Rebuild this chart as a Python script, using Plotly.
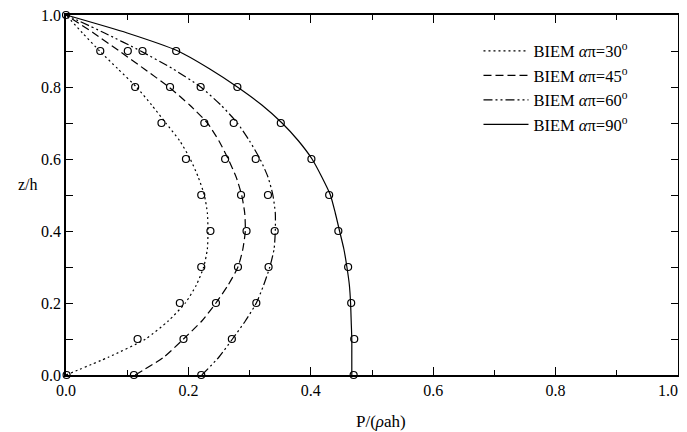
import plotly.graph_objects as go

# ---- curve data (BIEM lines) ----
z_curve = [0.0, 0.05, 0.1, 0.15, 0.2, 0.25, 0.3, 0.35, 0.4, 0.45, 0.5,
           0.55, 0.6, 0.65, 0.7, 0.75, 0.8, 0.85, 0.9, 0.95, 1.0]
p30_curve = [0.0, 0.07, 0.13, 0.167, 0.195, 0.213, 0.225, 0.231, 0.232, 0.231, 0.226,
             0.216, 0.203, 0.186, 0.163, 0.140, 0.115, 0.085, 0.055, 0.027, 0.0]
p45_curve = [0.113, 0.160, 0.192, 0.222, 0.245, 0.265, 0.281, 0.289, 0.293, 0.292, 0.287,
             0.278, 0.265, 0.250, 0.231, 0.202, 0.168, 0.128, 0.087, 0.045, 0.0]
p60_curve = [0.222, 0.250, 0.272, 0.293, 0.311, 0.323, 0.333, 0.340, 0.342, 0.342, 0.338,
             0.330, 0.317, 0.300, 0.280, 0.253, 0.220, 0.175, 0.122, 0.063, 0.0]
p90_curve = [0.467, 0.467, 0.467, 0.466, 0.465, 0.463, 0.459, 0.454, 0.447, 0.440, 0.432,
             0.418, 0.402, 0.380, 0.353, 0.320, 0.280, 0.235, 0.183, 0.100, 0.0]

# ---- circle data ----
z_pts = [0.0, 0.1, 0.2, 0.3, 0.4, 0.5, 0.6, 0.7, 0.8, 0.9]
p30_pts = [0.001, 0.117, 0.186, 0.221, 0.236, 0.221, 0.196, 0.156, 0.113, 0.056]
p45_pts = [0.111, 0.192, 0.245, 0.281, 0.295, 0.286, 0.260, 0.226, 0.170, 0.101]
p60_pts = [0.221, 0.271, 0.311, 0.331, 0.341, 0.330, 0.310, 0.274, 0.220, 0.125]
p90_pts = [0.470, 0.471, 0.466, 0.461, 0.445, 0.430, 0.401, 0.351, 0.280, 0.180]
top_pt_x = [0.0]
top_pt_z = [1.0]

labels = ["BIEM <i>α</i>π=30<sup>o</sup>", "BIEM <i>α</i>π=45<sup>o</sup>",
          "BIEM <i>α</i>π=60<sup>o</sup>", "BIEM <i>α</i>π=90<sup>o</sup>"]
x_ticks = [0.0, 0.2, 0.4, 0.6, 0.8, 1.0]
x_tick_text = ["0.0", "0.2", "0.4", "0.6", "0.8", ""]
last_x_label = "1.0"
y_ticks = [0.0, 0.2, 0.4, 0.6, 0.8, 1.0]

FONT = "Liberation Serif"
dashes = ["2px,3px", "8px,4px", "9px,3px,2px,3px,2px,3px", "solid"]
curves = [p30_curve, p45_curve, p60_curve, p90_curve]
pts = [p30_pts, p45_pts, p60_pts, p90_pts]

fig = go.Figure()
for lab, c, d in zip(labels, curves, dashes):
    fig.add_trace(go.Scatter(x=c, y=z_curve, mode="lines", name=lab,
                             line=dict(color="black", width=1.2, dash=d, shape="spline", smoothing=0.6)))
for p in pts:
    fig.add_trace(go.Scatter(x=p, y=z_pts, mode="markers", showlegend=False,
                             marker=dict(symbol="circle-open", size=7, color="black",
                                         line=dict(width=1.2, color="black"))))
fig.add_trace(go.Scatter(x=top_pt_x, y=top_pt_z, mode="markers", showlegend=False,
                         marker=dict(symbol="circle-open", size=7, color="black",
                                     line=dict(width=1.2, color="black"))))
for tr in fig.data:
    tr.cliponaxis = False

axis_common = dict(showgrid=False, zeroline=False, showline=True, linecolor="black",
                   linewidth=1.5, mirror="ticks", ticks="inside", tickcolor="black",
                   tickwidth=1, range=[0, 1.0], automargin=False, ticklabeloverflow="allow",
                   tickfont=dict(family=FONT, size=16, color="black"))

fig.update_xaxes(**axis_common, tickvals=x_ticks, ticktext=x_tick_text, ticklen=8,
                 minor=dict(dtick=0.1, ticks="inside", ticklen=5, tickcolor="black", tickwidth=1))
fig.update_yaxes(**axis_common, tickvals=y_ticks, tickformat=".1f", ticklen=7,
                 minor=dict(dtick=0.1, ticks="inside", ticklen=7, tickcolor="black", tickwidth=1))

fig.add_annotation(text=last_x_label, xref="paper", yref="paper", x=1.0, y=0.0,
                   xanchor="right", yanchor="top", xshift=2, yshift=-5, showarrow=False,
                   font=dict(family=FONT, size=16, color="black"))
fig.add_annotation(text="z/h", xref="paper", yref="paper", x=-0.081, y=0.53,
                   showarrow=False, font=dict(family=FONT, size=16, color="black"))
fig.add_annotation(text="P/(<i>ρ</i>ah)", xref="paper", yref="paper", x=0.515, y=-0.128,
                   yanchor="middle", showarrow=False, font=dict(family=FONT, size=17, color="black"))

# page body has an 8px margin; margins compensate so the plot area lands where the reference has it
fig.update_layout(
    width=671, height=424,
    margin=dict(l=58, r=1, t=7, b=57, autoexpand=False),
    paper_bgcolor="white", plot_bgcolor="white",
    showlegend=True,
    legend=dict(x=0.674, y=0.948, xanchor="left", yanchor="top",
                bgcolor="rgba(0,0,0,0)", itemwidth=45,
                font=dict(family=FONT, size=16.5, color="black"),
                tracegroupgap=0),
)

fig.write_html("out.html")
